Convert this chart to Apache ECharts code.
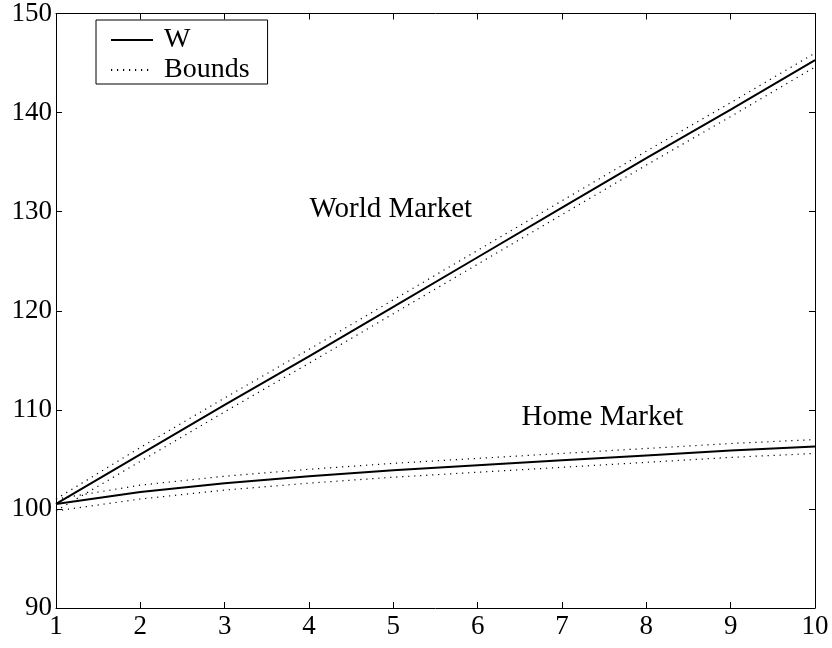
<!DOCTYPE html>
<html>
<head>
<meta charset="utf-8">
<script src="https://cdn.jsdelivr.net/npm/echarts@6/dist/echarts.min.js"></script>
<style>
  html, body { margin: 0; padding: 0; background: #fff; }
  #main { width: 832px; height: 648px; }
</style>
</head>
<body>
<div id="main"></div>
<script>
const xs = [1, 2, 3, 4, 5, 6, 7, 8, 9, 10];
const worldW = [100.5, 105.5, 110.5, 115.4, 120.4, 125.4, 130.4, 135.4, 140.3, 145.3];
const worldUp = [101.0, 106.2, 111.2, 116.1, 121.1, 126.1, 131.1, 136.1, 141.0, 146.0];
const worldLo = [99.8, 104.8, 109.8, 114.7, 119.7, 124.7, 129.7, 134.7, 139.6, 144.6];
const homeW = [100.5, 101.7, 102.6, 103.3, 103.9, 104.4, 104.9, 105.4, 105.9, 106.3];
const homeUp = [101.0, 102.4, 103.3, 104.0, 104.6, 105.1, 105.6, 106.1, 106.6, 107.0];
const homeLo = [99.8, 101.0, 101.9, 102.6, 103.2, 103.7, 104.2, 104.7, 105.2, 105.6];
const notes = [
    {text: 'World Market', x: 4.97, y: 130.2},
    {text: 'Home Market', x: 7.48, y: 109.2}
];

const font = 'Liberation Serif';

function pairs(ys) {
    return xs.map((x, i) => [x, ys[i]]);
}

function solid(name, ys) {
    return {
        name: name, type: 'line', data: pairs(ys), showSymbol: false, symbol: 'none',
        lineStyle: {color: '#000', width: 2}, itemStyle: {color: '#000'},
        animation: false, z: 3
    };
}

function dotted(name, ys) {
    return {
        name: name, type: 'line', data: pairs(ys), showSymbol: false, symbol: 'none',
        lineStyle: {color: '#000', width: 1.2, type: [1.2, 4.8]}, itemStyle: {color: '#000'},
        animation: false, z: 2
    };
}

let worldSeries = solid('W', worldW);
worldSeries.markPoint = {
    symbol: 'circle',
    symbolSize: 1,
    itemStyle: {color: 'rgba(0,0,0,0)'},
    data: notes.map(n => ({
        coord: [n.x, n.y], value: n.text,
        label: {show: true, position: 'inside', formatter: n.text,
            color: '#000', fontFamily: font, fontSize: 29}
    }))
};

const axisCommon = {
    axisLine: {show: true, onZero: false, lineStyle: {color: '#000', width: 1}},
    axisTick: {show: true, inside: true, length: 6, lineStyle: {color: '#000'}},
    splitLine: {show: false}
};

let chart = echarts.init(document.getElementById('main'));
chart.setOption({
    animation: false,
    grid: {left: 56, right: 17, top: 10, bottom: 40},
    legend: {
        data: ['W', 'Bounds'],
        orient: 'vertical',
        left: 96, top: 20,
        padding: [6, 18, 0, 14],
        itemWidth: 42, itemHeight: 20, itemGap: 2,
        borderColor: '#000', borderWidth: 1,
        backgroundColor: '#fff',
        itemStyle: {color: 'rgba(0,0,0,0)', borderWidth: 0, opacity: 0},
        textStyle: {color: '#000', fontFamily: font, fontSize: 28, lineHeight: 28, padding: [0, 0, 0, 6]}
    },
    xAxis: [
        Object.assign({type: 'value', min: 1, max: 10, interval: 1, position: 'bottom',
            axisLabel: {color: '#000', fontFamily: font, fontSize: 27, margin: 5}}, axisCommon),
        Object.assign({type: 'value', min: 1, max: 10, interval: 1, position: 'top',
            axisLabel: {show: false}}, axisCommon)
    ],
    yAxis: [
        Object.assign({type: 'value', min: 90, max: 150, interval: 10, position: 'left',
            axisLabel: {color: '#000', fontFamily: font, fontSize: 27, margin: 4}}, axisCommon),
        Object.assign({type: 'value', min: 90, max: 150, interval: 10, position: 'right',
            axisLabel: {show: false}}, axisCommon)
    ],
    series: [
        worldSeries,
        solid('W', homeW),
        dotted('Bounds', worldUp),
        dotted('Bounds', worldLo),
        dotted('Bounds', homeUp),
        dotted('Bounds', homeLo)
    ]
});
</script>
</body>
</html>
